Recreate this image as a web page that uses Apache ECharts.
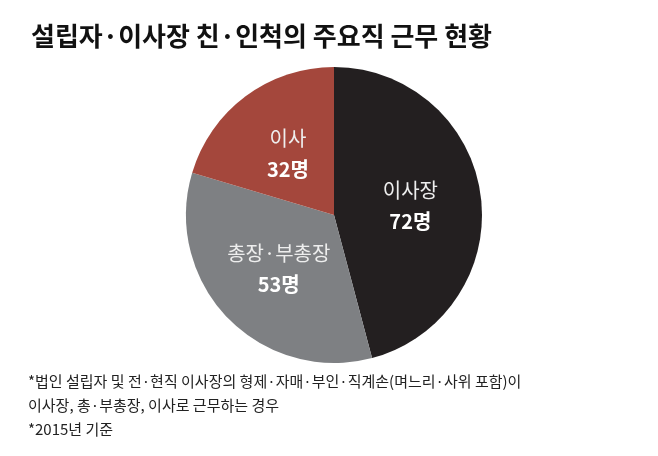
<!DOCTYPE html>
<html><head><meta charset="utf-8">
<script src="https://cdn.jsdelivr.net/npm/echarts@6/dist/echarts.min.js"></script>
<style>html,body{margin:0;background:#fff}#c{width:658px;height:456px}</style>
</head><body><div id="c"></div>
<script>
const categories = ['이사장', '총장·부총장', '이사'];
const values = [72, 53, 32];
const colors = ['#231f20', '#7e8083', '#a4473c'];
const F = 'Noto Sans CJK KR';
const chart = echarts.init(document.getElementById('c'));
chart.setOption({
  animation: false,
  title: {
    text: '설립자·이사장 친·인척의 주요직 근무 현황',
    left: 26, top: 18,
    textStyle: { fontFamily: F, fontSize: 26, fontWeight: 'bold', color: '#111' }
  },
  graphic: [
    { type: 'text', left: 28, top: 374, style: { text: '*법인 설립자 및 전·현직 이사장의 형제·자매·부인·직계손(며느리·사위 포함)이', font: '15px "Noto Sans CJK KR"', fill: '#222' } },
    { type: 'text', left: 28, top: 398, style: { text: '이사장, 총·부총장, 이사로 근무하는 경우', font: '15px "Noto Sans CJK KR"', fill: '#222' } },
    { type: 'text', left: 28, top: 422, style: { text: '*2015년 기준', font: '15px "Noto Sans CJK KR"', fill: '#222' } }
  ],
  series: [{
    type: 'pie',
    center: [334, 215],
    radius: [0, 148],
    startAngle: 90,
    clockwise: true,
    data: categories.map((c, i) => ({ name: c, value: values[i], itemStyle: { color: colors[i] } })),
    label: {
      position: 'inside',
      formatter: p => '{n|' + p.name + '}\n{v|' + p.value + '명}',
      rich: {
        n: { fontFamily: F, fontSize: 20, color: '#eee', lineHeight: 32 },
        v: { fontFamily: F, fontSize: 20, fontWeight: 'bold', color: '#fff', lineHeight: 30 }
      }
    },
    labelLine: { show: false },
    emphasis: { disabled: true }
  }]
});
</script></body></html>
